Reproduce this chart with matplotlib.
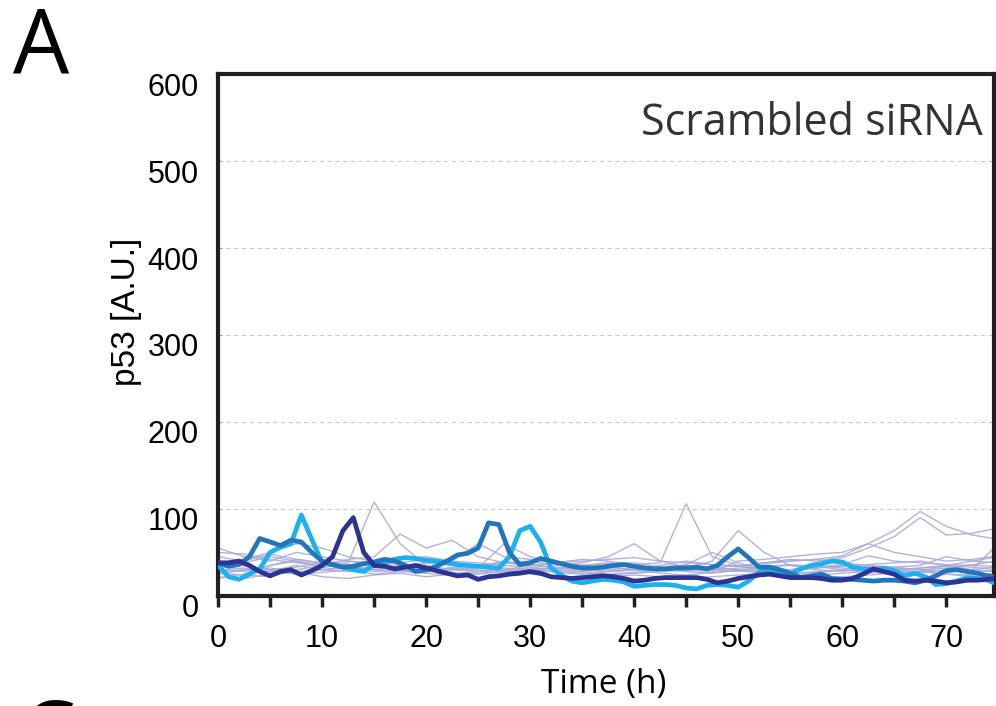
import numpy as np
import matplotlib
matplotlib.use("Agg")
from matplotlib import pyplot as plt
import matplotlib.transforms as mtransforms

# hourly samples for the three highlighted cells
hours = list(range(0, 76))
cyan_cell = [35, 22, 19, 25, 31, 50, 56, 60, 93, 65, 38, 36, 33, 30, 28, 36, 38, 42, 44, 43,
             41, 40, 38, 36, 35, 34, 33, 32, 45, 75, 80, 62, 32, 24, 17, 15, 17, 19, 18, 16,
             11, 12, 13, 13, 12, 9, 8, 12, 13, 12, 10, 17, 27, 31, 26, 25, 31, 35, 37, 40,
             39, 33, 31, 30, 32, 29, 23, 26, 22, 13, 14, 17, 21, 20, 18, 13]
mid_cell = [38, 34, 36, 45, 66, 62, 58, 64, 62, 50, 40, 36, 33, 34, 37, 39, 42, 40, 35, 28,
            30, 34, 40, 47, 49, 55, 84, 82, 50, 36, 38, 43, 40, 37, 34, 32, 32, 33, 35, 36,
            34, 32, 31, 31, 32, 32, 33, 31, 35, 45, 54, 44, 33, 33, 30, 26, 21, 23, 25, 20,
            19, 19, 18, 17, 18, 18, 17, 15, 18, 23, 29, 30, 28, 26, 23, 21]
navy_cell = [38, 38, 40, 35, 28, 23, 28, 30, 24, 29, 35, 45, 75, 90, 50, 35, 34, 31, 33, 35,
             32, 29, 26, 23, 24, 19, 22, 23, 25, 26, 28, 26, 22, 21, 20, 21, 22, 23, 22, 20,
             17, 18, 20, 21, 21, 21, 21, 19, 15, 17, 20, 22, 24, 25, 23, 21, 21, 21, 20, 18,
             18, 20, 25, 31, 28, 25, 18, 17, 18, 17, 15, 16, 18, 18, 19, 20]

# background cells, every 2.5 h
t_bg = [i * 2.5 for i in range(31)]
bg_cells = [
    [30, 28, 35, 40, 32, 38, 108, 60, 35, 30, 28, 32, 30, 27, 25, 28, 30, 26, 24, 27, 29, 26, 25, 28, 30, 27, 26, 28, 25, 24, 26],
    [45, 40, 48, 42, 38, 35, 30, 33, 38, 36, 34, 40, 35, 38, 42, 40, 36, 38, 106, 45, 35, 30, 28, 32, 35, 30, 28, 27, 30, 29, 28],
    [25, 30, 28, 35, 30, 32, 28, 30, 27, 33, 30, 28, 30, 32, 35, 37, 38, 33, 30, 28, 40, 42, 45, 48, 50, 60, 75, 97, 80, 70, 65],
    [40, 35, 30, 33, 38, 35, 40, 45, 38, 35, 33, 30, 35, 38, 40, 42, 44, 40, 38, 36, 34, 38, 42, 40, 44, 55, 68, 90, 70, 72, 78],
    [20, 25, 35, 42, 38, 30, 25, 28, 30, 32, 28, 30, 32, 30, 28, 25, 27, 30, 32, 40, 75, 50, 35, 30, 28, 32, 30, 28, 35, 40, 45],
    [35, 38, 45, 40, 36, 42, 45, 71, 55, 64, 45, 38, 35, 32, 30, 28, 30, 33, 35, 30, 28, 32, 30, 35, 32, 30, 33, 35, 45, 40, 38],
    [28, 30, 32, 28, 30, 34, 36, 30, 28, 32, 35, 38, 40, 35, 38, 45, 60, 40, 33, 30, 32, 34, 36, 34, 30, 28, 30, 32, 35, 33, 30],
    [55, 45, 40, 50, 45, 40, 35, 38, 42, 40, 60, 45, 42, 38, 35, 30, 32, 35, 40, 36, 34, 38, 40, 42, 46, 60, 50, 45, 40, 42, 46],
    [22, 20, 25, 28, 22, 20, 24, 26, 22, 25, 28, 30, 25, 22, 20, 22, 24, 22, 20, 22, 24, 26, 22, 20, 22, 24, 26, 28, 25, 22, 20],
    [33, 35, 30, 26, 30, 28, 32, 35, 30, 27, 25, 28, 30, 32, 35, 38, 34, 30, 28, 26, 30, 33, 35, 32, 34, 36, 38, 40, 35, 30, 34],
    [50, 48, 42, 38, 35, 40, 38, 42, 45, 40, 38, 35, 33, 30, 28, 32, 35, 33, 30, 32, 35, 37, 40, 42, 38, 35, 33, 30, 32, 36, 40],
    [26, 24, 22, 30, 35, 33, 30, 28, 26, 24, 26, 28, 30, 28, 26, 24, 26, 28, 30, 32, 30, 28, 26, 24, 26, 28, 30, 32, 34, 30, 28],
    [38, 42, 50, 60, 55, 45, 40, 36, 33, 30, 32, 60, 45, 38, 35, 33, 30, 32, 35, 33, 30, 28, 30, 33, 36, 46, 40, 38, 36, 35, 34],
    [30, 32, 28, 25, 27, 30, 33, 30, 28, 30, 34, 38, 36, 33, 30, 28, 30, 33, 36, 50, 38, 30, 28, 26, 30, 34, 32, 30, 28, 30, 60],
]

x_ticks = [0, 10, 20, 30, 40, 50, 60, 70]
y_ticks = [0, 100, 200, 300, 400, 500, 600]

fig = plt.figure(figsize=(9.96, 7.06), dpi=100)
ax = fig.add_axes([0.219, 0.156, 0.779, 0.739])

for row in bg_cells:
    ax.plot(t_bg, row, color='#a9abd6', lw=1.0, alpha=0.9, zorder=2)

ax.plot(hours, cyan_cell, color='#1cb1ec', lw=3.4, zorder=4)
ax.plot(hours, mid_cell, color='#2176bb', lw=3.4, zorder=4)
ax.plot(hours, navy_cell, color='#2b3491', lw=3.4, zorder=5)

ax.set_xlim(0, 74.6)
ax.set_ylim(0, 600)
ax.set_yticks(y_ticks)
ax.set_xticks(x_ticks)
ax.set_xticks([5, 15, 25, 35, 45, 55, 65], minor=True)
for y in y_ticks[1:-1]:
    ax.axhline(y, color='#c8c8c8', lw=0.8, ls=(0, (4, 3)), zorder=1)

for s in ax.spines.values():
    s.set_linewidth(3)
    s.set_color('#231f20')
ax.tick_params(axis='x', which='both', direction='out', length=8, width=2.5,
               color='#231f20', labelsize=22, pad=12)
ax.tick_params(axis='y', direction='in', length=3, width=0.6, color='#999999',
               labelsize=22, pad=14)
# y labels in the original sit a little below their gridlines
shift = mtransforms.ScaledTranslation(0, -0.10, fig.dpi_scale_trans)
for lab in ax.get_yticklabels():
    lab.set_transform(lab.get_transform() + shift)
for lab in ax.get_xticklabels() + ax.get_yticklabels():
    lab.set_family('Liberation Sans')

ax.set_ylabel('p53 [A.U.]', family='Liberation Sans', fontsize=24)
ax.yaxis.set_label_coords(-0.098, 0.544)
ax.set_xlabel('Time (h)', family='Open Sans', fontsize=24)
ax.xaxis.set_label_coords(0.497, -0.138)

ax.text(0.985, 0.905, 'Scrambled siRNA', transform=ax.transAxes, ha='right', va='center',
        family='Open Sans', fontsize=31, color='#333333')

fig.text(0.013, 0.995, 'A', family='Open Sans', fontsize=64, va='top', ha='left')
fig.text(0.02, -0.115, 'C', family='Open Sans', fontsize=64, va='bottom', ha='left')

fig.savefig('out.png', dpi=100)
